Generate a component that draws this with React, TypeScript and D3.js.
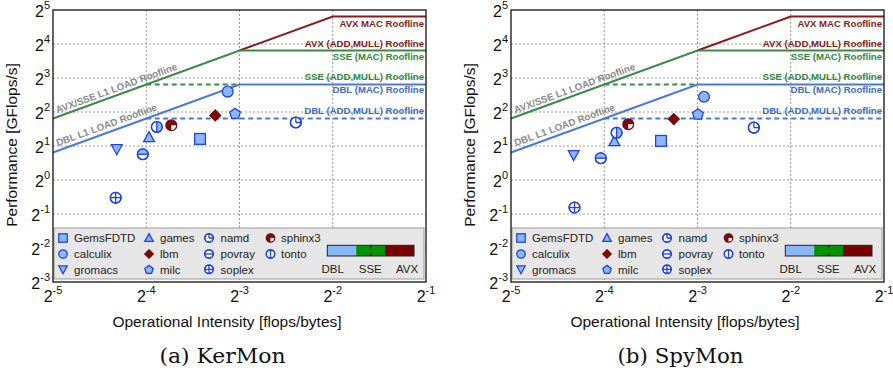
import React, { useEffect, useRef } from 'react'
import * as d3 from 'd3'

// roofline parameters (GFlops/s and GB/s)
const peakNames = ['AVX MAC Roofline', 'AVX (ADD,MULL) Roofline', 'SSE (MAC) Roofline', 'SSE (ADD,MULL) Roofline', 'DBL (MAC) Roofline', 'DBL (ADD,MULL) Roofline']
const peakValues = [28, 14, 14, 7, 7, 3.5]
const peakKinds = ['AVX', 'AVX', 'SSE', 'SSE', 'DBL', 'DBL']
const loadNames = ['AVX/SSE L1 LOAD Roofline', 'DBL L1 LOAD Roofline']
const loadBandwidths = [112, 56]

const xTickExps = [-5, -4, -3, -2, -1]
const yTickExps = [-3, -2, -1, 0, 1, 2, 3, 4, 5]

const benchmarks = ['GemsFDTD', 'calculix', 'gromacs', 'games', 'lbm', 'milc', 'namd', 'povray', 'soplex', 'sphinx3', 'tonto']
const markerKinds = ['square', 'circle', 'triDown', 'triUp', 'diamond', 'pentagon', 'namd', 'povray', 'soplex', 'sphinx3', 'tonto']

// operational intensity [flops/byte] and performance [GFlops/s]
const kermonOI = [0.0932, 0.1145, 0.0502, 0.0638, 0.1044, 0.1209, 0.19, 0.0609, 0.0498, 0.0753, 0.0676]
const kermonPerf = [2.31, 6.06, 1.88, 2.39, 3.73, 3.89, 3.23, 1.69, 0.697, 3.05, 2.95]
const spymonOI = [0.0953, 0.1312, 0.0498, 0.0674, 0.1048, 0.1254, 0.19, 0.0609, 0.0501, 0.0747, 0.0685]
const spymonPerf = [2.22, 5.46, 1.67, 2.2, 3.46, 3.84, 2.91, 1.56, 0.57, 3.12, 2.62]

const captions = ['(a) KerMon', '(b) SpyMon']
const barLabels = ['DBL', 'SSE', 'AVX']

const FONT = "'Liberation Sans', Arial, Helvetica, sans-serif"
const LIGHT = '#8cb8f6'
const MSTROKE = '#1f3ff2'
const DARKRED = '#7a0a0a'
const C = { AVX: '#8b1a1a', SSE: '#3b8a48', DBL: '#4a78e0' }
const TXT = { AVX: '#8b1a1a', SSE: '#2e8a3a', DBL: '#3c6ad0' }

const W = 373
const H = 272

function marker(g: any, kind: string, r: number, legend: boolean) {
  const sw = 1.3
  const circ = (fill: string) =>
    g.append('circle').attr('r', r).attr('fill', fill).attr('stroke', MSTROKE).attr('stroke-width', sw)
  const poly = (pts: number[][], fill: string, stroke: string) =>
    g.append('path').attr('d', d3.line()(pts as any) + 'Z').attr('fill', fill).attr('stroke', stroke).attr('stroke-width', sw)
  if (kind === 'square') {
    g.append('rect').attr('x', -r).attr('y', -r).attr('width', 2 * r).attr('height', 2 * r)
      .attr('fill', LIGHT).attr('stroke', MSTROKE).attr('stroke-width', sw)
  } else if (kind === 'circle') {
    circ(LIGHT)
  } else if (kind === 'triUp') {
    poly([[0, -r * 1.05], [r, r * 0.8], [-r, r * 0.8]], LIGHT, MSTROKE)
  } else if (kind === 'triDown') {
    poly([[0, r * 1.05], [r, -r * 0.8], [-r, -r * 0.8]], LIGHT, MSTROKE)
  } else if (kind === 'diamond') {
    poly([[0, -r], [r, 0], [0, r], [-r, 0]], DARKRED, DARKRED)
  } else if (kind === 'pentagon') {
    const pts = d3.range(5).map(i => {
      const a = -Math.PI / 2 + (i * 2 * Math.PI) / 5
      return [Math.cos(a) * r * 1.05, Math.sin(a) * r * 1.05 + 0.5]
    })
    poly(pts, LIGHT, MSTROKE)
  } else if (kind === 'sphinx3') {
    g.append('circle').attr('r', r).attr('fill', DARKRED).attr('stroke', DARKRED).attr('stroke-width', sw)
    g.append('path').attr('d', `M0,0 L${r - 0.6},0 A${r - 0.6},${r - 0.6} 0 0 1 0,${r - 0.6} Z`).attr('fill', '#fff')
  } else {
    circ('#fff')
    const rr = r - 0.6
    if (!legend && kind === 'povray')
      g.append('path').attr('d', `M${-rr},0 A${rr},${rr} 0 0 1 ${rr},0 Z`).attr('fill', LIGHT)
    if (!legend && kind === 'tonto')
      g.append('path').attr('d', `M0,${-rr} A${rr},${rr} 0 0 1 0,${rr} Z`).attr('fill', LIGHT)
    let d = ''
    if (kind === 'namd') d = `M0,0 V${-r} M0,0 H${r}`
    if (kind === 'povray') d = `M${-r},0 H${r}`
    if (kind === 'soplex') d = `M${-r},0 H${r} M0,${-r} V${r}`
    if (kind === 'tonto') d = `M0,${-r} V${r}`
    g.append('path').attr('d', d).attr('fill', 'none').attr('stroke', MSTROKE).attr('stroke-width', sw)
    g.append('circle').attr('r', r).attr('fill', 'none').attr('stroke', MSTROKE).attr('stroke-width', sw)
  }
}

function powLabel(sel: any, exp: number) {
  sel.append('tspan').attr('font-size', 16).text('2')
  sel.append('tspan').attr('font-size', 11).attr('dy', -8).text(String(exp))
}

function drawPanel(root: any, left: number, top: number, oi: number[], perf: number[], caption: string) {
  const x = d3.scaleLog().base(2).domain([2 ** -5, 2 ** -1]).range([0, W])
  const y = d3.scaleLog().base(2).domain([2 ** -3, 2 ** 5]).range([H, 0])
  const g = root.append('g').attr('transform', `translate(${left},${top})`)

  // grid
  xTickExps.slice(1, -1).forEach(e =>
    g.append('line').attr('x1', x(2 ** e)).attr('x2', x(2 ** e)).attr('y1', 0).attr('y2', H)
      .attr('stroke', '#9a9a9a').attr('stroke-dasharray', '2,2'))
  yTickExps.slice(1, -1).forEach(e =>
    g.append('line').attr('y1', y(2 ** e)).attr('y2', y(2 ** e)).attr('x1', 0).attr('x2', W)
      .attr('stroke', '#9a9a9a').attr('stroke-dasharray', '2,2'))

  const line = d3.line<number[]>().x(d => x(d[0])).y(d => y(d[1]))
  const xmin = 2 ** -5
  const xmax = 2 ** -1
  const bwS = loadBandwidths[0]
  const bwD = loadBandwidths[1]
  const [avxMac, avxAdd, sseMac, sseAdd, dblMac, dblAdd] = peakValues

  const paths = [
    { pts: [[avxAdd / bwS, avxAdd], [avxMac / bwS, avxMac], [xmax, avxMac]], c: C.AVX, dash: null },
    { pts: [[xmin, bwS * xmin], [sseMac / bwS, sseMac], [xmax, sseMac]], c: C.SSE, dash: null },
    { pts: [[sseAdd / bwS, sseAdd], [sseAdd / bwD, sseAdd]], c: C.SSE, dash: '5,3.5' },
    { pts: [[xmin, bwD * xmin], [dblMac / bwD, dblMac], [xmax, dblMac]], c: C.DBL, dash: null },
    { pts: [[dblAdd / bwD, dblAdd], [xmax, dblAdd]], c: C.DBL, dash: '5,3.5' },
  ]
  paths.forEach(p =>
    g.append('path').attr('d', line(p.pts)).attr('fill', 'none').attr('stroke', p.c)
      .attr('stroke-width', 2).attr('stroke-dasharray', p.dash))

  // peak labels (right aligned)
  const offs = [10, -3.6, 9.7, -4.6, 8.8, -4.4]
  peakNames.forEach((n, i) =>
    g.append('text').attr('x', W - 2).attr('y', y(peakValues[i]) + offs[i]).attr('text-anchor', 'end')
      .attr('font-family', FONT).attr('font-weight', 'bold').attr('font-size', 9.6)
      .attr('fill', TXT[peakKinds[i] as 'AVX']).text(n))

  // slanted load labels
  loadBandwidths.forEach((bw, i) => {
    const x0 = 2 ** -4.97
    const px = x(x0)
    const py = y(bw * x0)
    const a = Math.atan2(y(bw * xmin) - y(bw * 2 * xmin), x(2 * xmin) - x(xmin))
    const off = i === 0 ? 4.5 : 5.5
    g.append('text')
      .attr('transform', `translate(${px + off * Math.sin(a)},${py - off * Math.cos(a)}) rotate(${(-a * 180) / Math.PI})`)
      .attr('font-family', FONT).attr('font-weight', 'bold').attr('font-size', 9.8)
      .attr('fill', '#8a8a8a').text(loadNames[i])
  })

  // points
  oi.forEach((v, i) => {
    const m = g.append('g').attr('transform', `translate(${x(v)},${y(perf[i])})`)
    marker(m, markerKinds[i], 5.4, false)
  })

  // legend
  const lg = g.append('g').attr('transform', `translate(1,${218})`)
  lg.append('rect').attr('width', W - 3).attr('height', 51).attr('fill', '#e6e6e6').attr('stroke', '#9a9a9a')
  const iconX = [10, 96, 156, 217.5]
  const textX = [21, 107, 167.5, 228]
  const rowY = [10, 26, 41.3]
  benchmarks.forEach((b, i) => {
    const col = Math.floor(i / 3)
    const row = i % 3
    const m = lg.append('g').attr('transform', `translate(${iconX[col] - 1},${rowY[row]})`)
    marker(m, markerKinds[i], 4.2, true)
    lg.append('text').attr('x', textX[col] - 1).attr('y', rowY[row] + 4.2).attr('font-family', FONT)
      .attr('font-size', 11.5).attr('fill', '#222').text(b)
  })
  const barX = 273.3
  const segW = 28.9
  const barCols = ['#88b8f8', '#009400', '#780000']
  barCols.forEach((c, i) =>
    lg.append('rect').attr('x', barX + i * segW).attr('y', 17.3).attr('width', segW).attr('height', 10.7).attr('fill', c))
  lg.append('rect').attr('x', barX).attr('y', 17.3).attr('width', segW * 3).attr('height', 10.7)
    .attr('fill', 'none').attr('stroke', '#222').attr('stroke-width', 1)
  const tickX = barX + segW * 1.5
  lg.append('path').attr('d', `M${tickX},17.3 v3 M${tickX},28 v-3`).attr('stroke', '#111').attr('stroke-width', 1)
  const labX = [278.7, 316.3, 353]
  barLabels.forEach((t, i) =>
    lg.append('text').attr('x', labX[i]).attr('y', 45.3).attr('text-anchor', 'middle').attr('font-family', FONT)
      .attr('font-size', 11.5).attr('fill', '#222').text(t))

  // frame
  g.append('rect').attr('width', W).attr('height', H).attr('fill', 'none').attr('stroke', '#111').attr('stroke-width', 1.3)

  // tick labels
  xTickExps.forEach(e => {
    const t = g.append('text').attr('x', x(2 ** e)).attr('y', H + 20).attr('text-anchor', 'middle')
      .attr('font-family', FONT).attr('fill', '#111')
    powLabel(t, e)
  })
  yTickExps.forEach(e => {
    const t = g.append('text').attr('x', -3).attr('y', y(2 ** e) + 6.5).attr('text-anchor', 'end')
      .attr('font-family', FONT).attr('fill', '#111')
    powLabel(t, e)
  })

  // axis titles
  g.append('text').attr('x', W / 2 - 12.5).attr('y', H + 45).attr('text-anchor', 'middle').attr('font-family', FONT)
    .attr('font-size', 15.5).attr('fill', '#111').text('Operational Intensity [flops/bytes]')
  g.append('text').attr('transform', `translate(-36,${H / 2 - 1}) rotate(-90)`).attr('text-anchor', 'middle')
    .attr('font-family', FONT).attr('font-size', 15.5).attr('fill', '#111').text('Performance [GFlops/s]')

  // caption
  g.append('text').attr('x', W / 2 - 17).attr('y', H + 81).attr('text-anchor', 'middle')
    .attr('font-family', "'DejaVu Serif', 'Liberation Serif', serif").attr('font-size', 20.5)
    .attr('textLength', 126).attr('lengthAdjust', 'spacingAndGlyphs').attr('fill', '#111').text(caption)
}

export default function App() {
  const ref = useRef<SVGSVGElement>(null)

  useEffect(() => {
    const svg = d3.select(ref.current)
    svg.selectAll('*').remove()
    drawPanel(svg, 53, 10, kermonOI, kermonPerf, captions[0])
    drawPanel(svg, 511, 10, spymonOI, spymonPerf, captions[1])
  }, [])

  return (
    <svg
      ref={ref}
      width={893}
      height={372}
      style={{ position: 'absolute', left: 0, top: 0, background: '#fff' }}
    />
  )
}
